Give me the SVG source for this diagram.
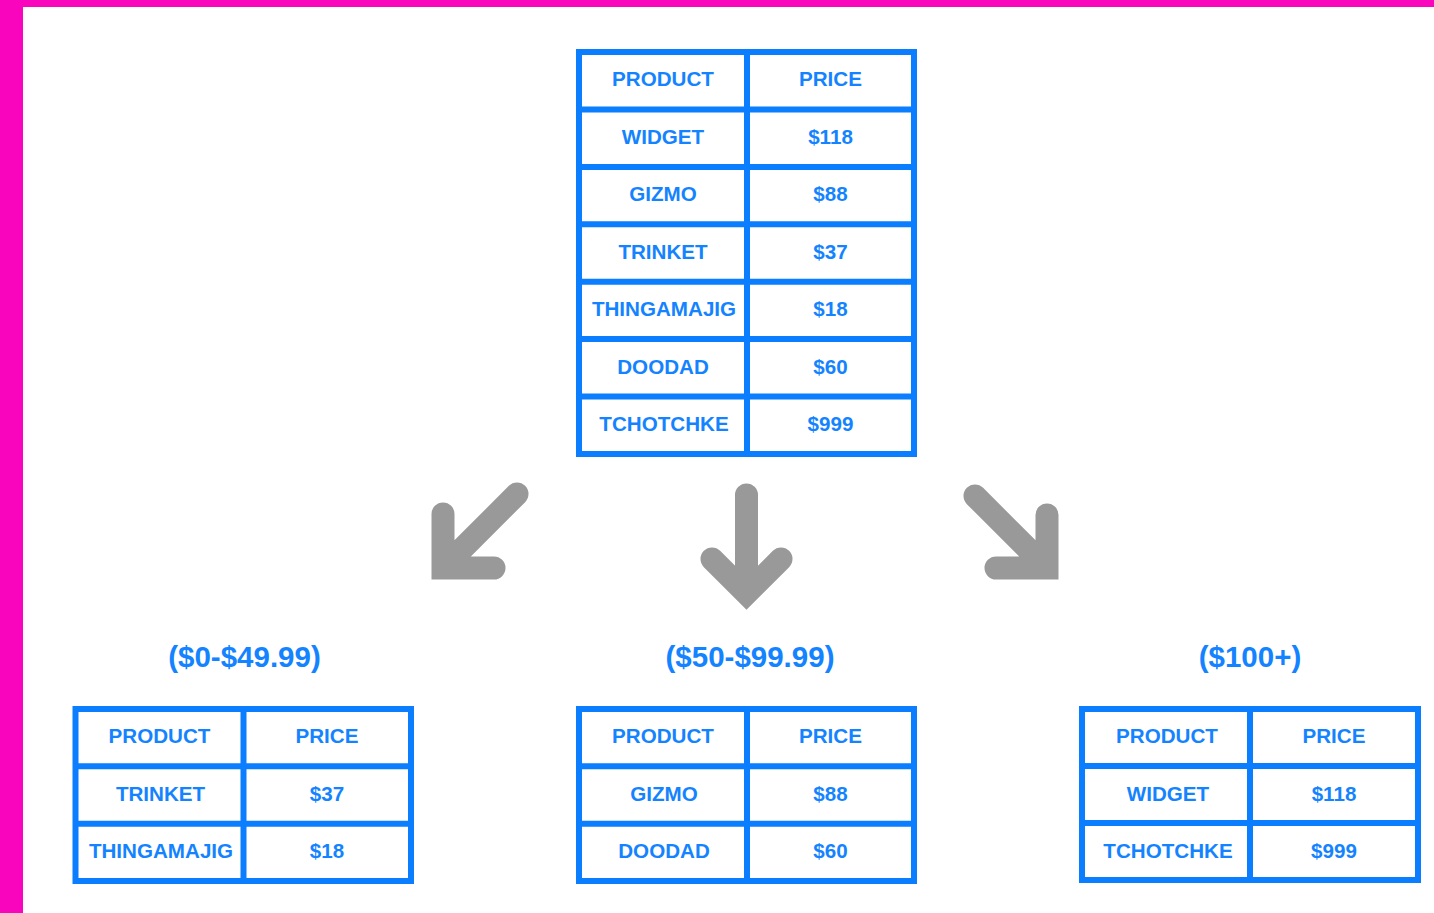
<svg xmlns="http://www.w3.org/2000/svg" width="1434" height="913" viewBox="0 0 1434 913">
  <defs>
    <style>
      .grid { fill: none; stroke: #0B7EFF; stroke-width: 6; }
      .cell { font-family: "Liberation Sans", Arial, sans-serif; font-weight: bold; font-size: 20.6px; fill: #1483FF; text-anchor: middle; }
      .range { font-family: "Liberation Sans", Arial, sans-serif; font-weight: bold; font-size: 29.5px; fill: #1483FF; text-anchor: middle; }
      .arrow { fill: none; stroke: #999999; stroke-width: 23; stroke-linecap: round; stroke-linejoin: miter; }
    </style>
  </defs>

  <!-- page background and frame -->
  <rect x="0" y="0" width="1434" height="913" fill="#FFFFFF"/>
  <rect x="0" y="0" width="1434" height="7" fill="#FA05BE"/>
  <rect x="0" y="0" width="23" height="913" fill="#FA05BE"/>

  <!-- full product table -->
  <g id="table-all">
    <rect class="grid" x="579" y="52" width="335" height="402"/>
    <path class="grid" d="M747 52V454M579 109.4H914M579 166.9H914M579 224.3H914M579 281.7H914M579 339.1H914M579 396.6H914"/>
    <text class="cell" x="663" y="86.3">PRODUCT</text>
    <text class="cell" x="830.5" y="86.3">PRICE</text>
    <text class="cell" x="663" y="143.7">WIDGET</text>
    <text class="cell" x="830.5" y="143.7">$118</text>
    <text class="cell" x="663" y="201.2">GIZMO</text>
    <text class="cell" x="830.5" y="201.2">$88</text>
    <text class="cell" x="663" y="258.6">TRINKET</text>
    <text class="cell" x="830.5" y="258.6">$37</text>
    <text class="cell" x="664" y="316">THINGAMAJIG</text>
    <text class="cell" x="830.5" y="316">$18</text>
    <text class="cell" x="663" y="373.5">DOODAD</text>
    <text class="cell" x="830.5" y="373.5">$60</text>
    <text class="cell" x="664" y="430.9">TCHOTCHKE</text>
    <text class="cell" x="830.5" y="430.9">$999</text>
  </g>

  <!-- split arrows -->
  <g id="connectors">
    <path class="arrow" d="M517 494L443 568M443 514V568H494"/>
    <path class="arrow" d="M746.5 495V590M712 559L746.5 593.5L781 559"/>
    <path class="arrow" d="M975 496L1047 568M1047 515V568H996"/>
  </g>

  <!-- low price bucket -->
  <g id="bucket-low">
    <text class="range" x="244.5" y="667">($0-$49.99)</text>
    <rect class="grid" x="75.5" y="709" width="335.5" height="172"/>
    <path class="grid" d="M243.5 709V881M75.5 766.3H411M75.5 823.7H411"/>
    <text class="cell" x="159.5" y="743.3">PRODUCT</text>
    <text class="cell" x="327" y="743.3">PRICE</text>
    <text class="cell" x="160.5" y="800.6">TRINKET</text>
    <text class="cell" x="327" y="800.6">$37</text>
    <text class="cell" x="161" y="857.9">THINGAMAJIG</text>
    <text class="cell" x="327" y="857.9">$18</text>
  </g>

  <!-- mid price bucket -->
  <g id="bucket-mid">
    <text class="range" x="750" y="667">($50-$99.99)</text>
    <rect class="grid" x="579" y="709" width="335" height="172"/>
    <path class="grid" d="M747 709V881M579 766.3H914M579 823.7H914"/>
    <text class="cell" x="663" y="743.3">PRODUCT</text>
    <text class="cell" x="830.5" y="743.3">PRICE</text>
    <text class="cell" x="664" y="800.6">GIZMO</text>
    <text class="cell" x="830.5" y="800.6">$88</text>
    <text class="cell" x="664" y="857.9">DOODAD</text>
    <text class="cell" x="830.5" y="857.9">$60</text>
  </g>

  <!-- high price bucket -->
  <g id="bucket-high">
    <text class="range" x="1250" y="667">($100+)</text>
    <rect class="grid" x="1082" y="709" width="336" height="171"/>
    <path class="grid" d="M1250 709V880M1082 766H1418M1082 823H1418"/>
    <text class="cell" x="1167" y="743.3">PRODUCT</text>
    <text class="cell" x="1334" y="743.3">PRICE</text>
    <text class="cell" x="1168" y="800.6">WIDGET</text>
    <text class="cell" x="1334" y="800.6">$118</text>
    <text class="cell" x="1168" y="857.9">TCHOTCHKE</text>
    <text class="cell" x="1334" y="857.9">$999</text>
  </g>
</svg>
